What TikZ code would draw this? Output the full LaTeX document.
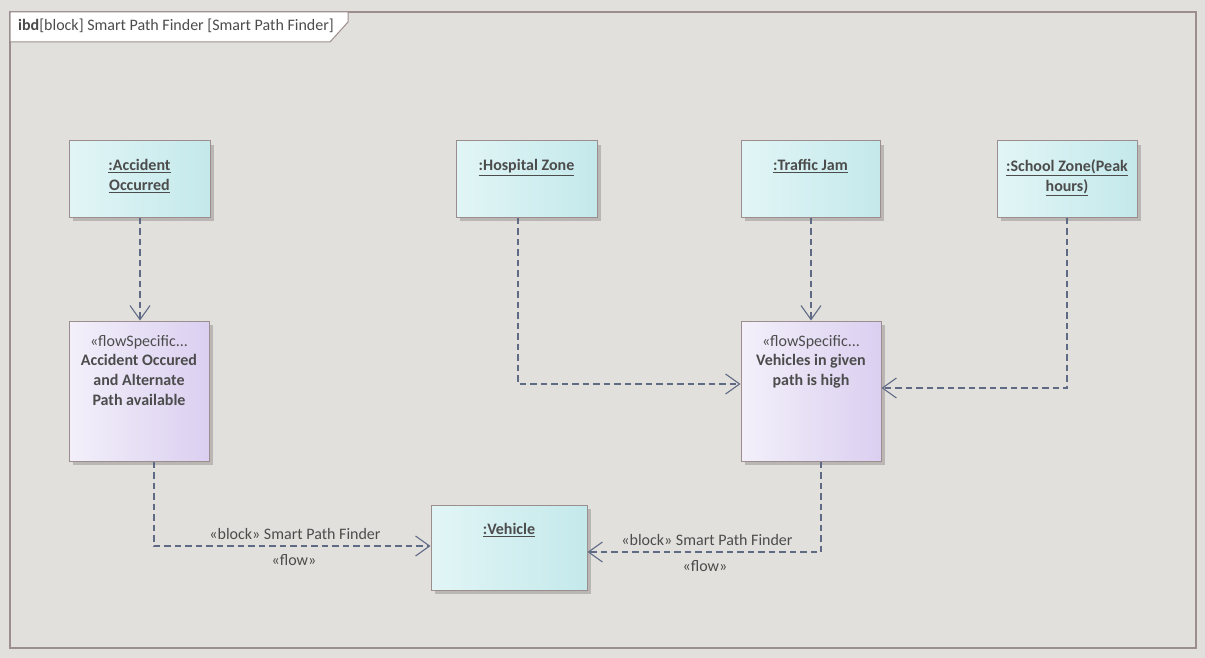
\documentclass[tikz,border=0pt]{standalone}
\usepackage{fontspec}
\setmainfont{Carlito}
\usetikzlibrary{arrows.meta,shadows}
\definecolor{bg}{HTML}{E2E0DD}
\definecolor{frm}{HTML}{9C8E8E}
\definecolor{lnk}{HTML}{5F6A85}
\definecolor{txt}{HTML}{4C4C4C}
\definecolor{shd}{HTML}{B9B6B3}
\definecolor{cyL}{HTML}{E2F5F6}
\definecolor{cyR}{HTML}{C4E9EB}
\definecolor{puL}{HTML}{F3F0FA}
\definecolor{puR}{HTML}{DBCFF0}
\begin{document}
\begin{tikzpicture}[x=1pt,y=-1pt,
  every node/.style={text=txt, font=\fontsize{16}{20}\selectfont},
  box/.style={draw=frm, line width=1pt, rectangle, inner sep=0pt,
    drop shadow={shadow xshift=4pt, shadow yshift=-4pt, fill=shd, opacity=1}},
  blk/.style={box, left color=cyL, right color=cyR},
  flw/.style={box, left color=puL, right color=puR},
  nametxt/.style={anchor=north, align=center, inner sep=0pt, font=\fontsize{16}{20}\selectfont\bfseries},
  conn/.style={draw=lnk, line width=1.1pt, dash pattern=on 6.5pt off 4pt,
    -{Straight Barb[length=14pt,width=20pt,line width=1.1pt]}},
  lbl/.style={inner sep=0pt}
]
\fill[bg] (0,0) rectangle (1205,658);
\useasboundingbox (0,0) rectangle (1205,658);
% frame
\draw[frm, line width=1.5pt] (10,12) rectangle (1196,648);
\draw[frm, line width=1pt, fill=white] (10,12) -- (348,12) -- (348,22) -- (330,42) -- (10,42) -- cycle;
\node[anchor=west, inner sep=0pt] (title) at (18,26) {\textbf{ibd}[block] Smart Path Finder [Smart Path Finder]};
% blocks
\node[blk, minimum width=141pt, minimum height=76pt] (acc) at (139.5,179) {};
\node[nametxt] (acct) at ([yshift=-19pt]acc.north) {\underline{:Accident}\\\underline{Occurred}};
\node[blk, minimum width=141pt, minimum height=76pt] (hos) at (526.5,179) {};
\node[nametxt] (host) at ([yshift=-19pt]hos.north) {\underline{:Hospital Zone}};
\node[blk, minimum width=139pt, minimum height=76pt] (tra) at (810.5,179) {};
\node[nametxt] (trat) at ([yshift=-19pt]tra.north) {\underline{:Traffic Jam}};
\node[blk, minimum width=140pt, minimum height=76pt] (sch) at (1067,179) {};
\node[nametxt] (scht) at ([yshift=-19pt]sch.north) {\underline{:School Zone(Peak}\\\underline{hours)}};
\node[blk, minimum width=156pt, minimum height=85pt] (veh) at (509,547.5) {};
\node[nametxt] (veht) at ([yshift=-19pt]veh.north) {\underline{:Vehicle}};
% flow specifications
\node[flw, minimum width=140pt, minimum height=140pt] (fsa) at (139,391) {};
\node[anchor=north, inner sep=0pt] (fsas) at ([yshift=-15pt]fsa.north) {«flowSpecific...};
\node[nametxt] (fsat) at ([yshift=-34pt]fsa.north) {Accident Occured\\and Alternate\\Path available};
\node[flw, minimum width=140pt, minimum height=140pt] (fsb) at (811,391) {};
\node[anchor=north, inner sep=0pt] (fsbs) at ([yshift=-15pt]fsb.north) {«flowSpecific...};
\node[nametxt] (fsbt) at ([yshift=-34pt]fsb.north) {Vehicles in given\\path is high};
% connectors
\draw[conn] ([xshift=0.5pt]acc.south) -- ([xshift=0.5pt]acc.south |- fsa.north);
\draw[conn] ([xshift=-8.5pt]hos.south) |- ([yshift=7pt]fsb.west);
\draw[conn] ([xshift=0.5pt]tra.south) -- ([xshift=0.5pt]tra.south |- fsb.north);
\draw[conn] (sch.south) |- ([yshift=3pt]fsb.east);
\draw[conn] ([xshift=15pt]fsa.south) |- ([yshift=1.5pt]veh.west);
\draw[conn] ([xshift=10pt]fsb.south) |- ([yshift=-4.5pt]veh.east);
% connector labels
\node[lbl] (l1a) at (295,534) {«block» Smart Path Finder};
\node[lbl] (l1b) at (294,560) {«flow»};
\node[lbl] (l2a) at (707,540) {«block» Smart Path Finder};
\node[lbl] (l2b) at (705,566) {«flow»};
\end{tikzpicture}
\end{document}
